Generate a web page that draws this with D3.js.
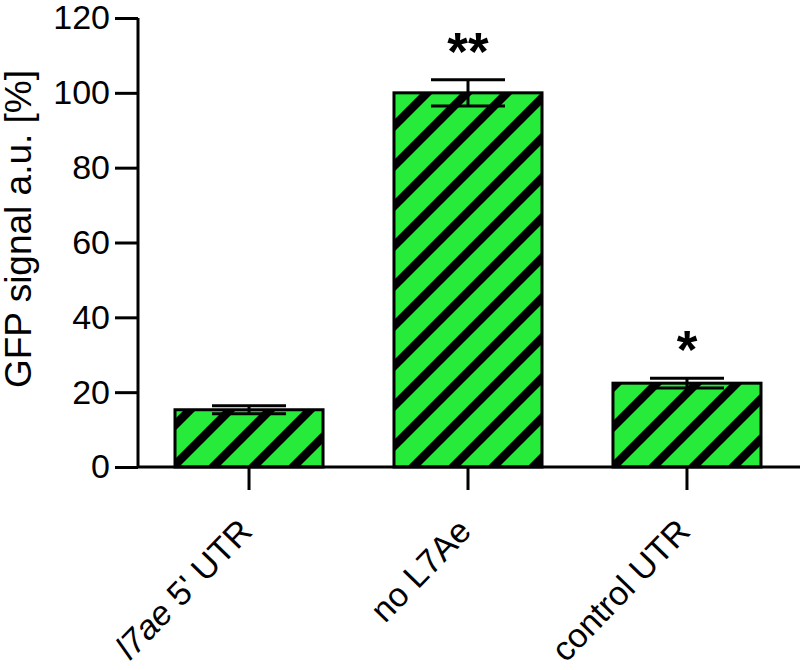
<!DOCTYPE html>
<html>
<head>
<meta charset="utf-8">
<script src="https://cdn.jsdelivr.net/npm/d3@7"></script>
<style>
  body { margin: 0; background: #fff; }
  text { font-family: Arial, "Liberation Sans", sans-serif; }
</style>
</head>
<body>
<div id="chart"></div>
<script>
// dados
const categories = ["l7ae 5' UTR", "no L7Ae", "control UTR"];
const means = [15.3, 100, 22.4];
const errors = [1.1, 3.5, 1.3];
const stars = ["", "**", "*"];
const yTicks = [0, 20, 40, 60, 80, 100, 120];

const width = 800;
const height = 670;

const svg = d3.select("#chart")
    .append("svg")
    .attr("width", width)
    .attr("height", height);

// escalas
const x = d3.scaleBand()
    .domain(categories)
    .range([138, 798])
    .paddingInner(0.324)
    .paddingOuter(0.169);

const y = d3.scaleLinear()
    .domain([0, 120])
    .range([467, 18]);

// padrão listrado (verde com diagonais pretas)
const defs = svg.append("defs");
const pat = defs.append("pattern")
    .attr("id", "stripes")
    .attr("patternUnits", "userSpaceOnUse")
    .attr("width", 40)
    .attr("height", 40);
pat.append("rect")
    .attr("width", 40).attr("height", 40)
    .attr("fill", "#26eb3a");
pat.append("path")
    .attr("d", "M-10,10 L10,-10 M0,40 L40,0 M30,50 L50,30")
    .attr("stroke", "#000")
    .attr("stroke-width", 8.5);

// barras
svg.append("g")
    .selectAll("rect")
    .data(means)
    .enter()
    .append("rect")
    .attr("x", (d, i) => x(categories[i]))
    .attr("y", d => y(d))
    .attr("width", x.bandwidth())
    .attr("height", d => y(0) - y(d))
    .attr("fill", "url(#stripes)")
    .attr("stroke", "#000")
    .attr("stroke-width", 3);

// barras de erro
const eb = svg.append("g")
    .attr("stroke", "#000")
    .attr("stroke-width", 3);
means.forEach((m, i) => {
    const cx = x(categories[i]) + x.bandwidth() / 2;
    const half = x.bandwidth() / 4;
    eb.append("line")
        .attr("x1", cx).attr("x2", cx)
        .attr("y1", y(m + errors[i])).attr("y2", y(m - errors[i]));
    [m + errors[i], m - errors[i]].forEach(v => {
        eb.append("line")
            .attr("x1", cx - half).attr("x2", cx + half)
            .attr("y1", y(v)).attr("y2", y(v));
    });
});

// asteriscos de significância
svg.append("g")
    .selectAll("text")
    .data(stars)
    .enter()
    .append("text")
    .attr("x", (d, i) => x(categories[i]) + x.bandwidth() / 2)
    .attr("y", (d, i) => y(means[i] + errors[i]) - 10)
    .attr("text-anchor", "middle")
    .attr("font-size", 53)
    .attr("font-weight", "bold")
    .text(d => d);

// eixo Y
const yAxis = svg.append("g")
    .attr("transform", "translate(138,0)")
    .call(d3.axisLeft(y).tickValues(yTicks).tickSize(23).tickPadding(5));
yAxis.selectAll("text").attr("font-size", 34).attr("fill", "#000")
    .attr("font-family", "Arial, 'Liberation Sans', sans-serif");
yAxis.selectAll("line").attr("stroke", "#000").attr("stroke-width", 3);
yAxis.select(".domain").attr("stroke", "#000").attr("stroke-width", 3)
    .attr("d", `M0,${y(120)}V${y(0)}`);

// eixo X
const xAxis = svg.append("g")
    .attr("transform", `translate(0,${y(0)})`);
xAxis.append("line")
    .attr("x1", 138).attr("x2", 800)
    .attr("y1", 0).attr("y2", 0)
    .attr("stroke", "#000").attr("stroke-width", 3);
xAxis.selectAll(".tick")
    .data(categories)
    .enter()
    .append("line")
    .attr("x1", d => x(d) + x.bandwidth() / 2)
    .attr("x2", d => x(d) + x.bandwidth() / 2)
    .attr("y1", 0).attr("y2", 23)
    .attr("stroke", "#000").attr("stroke-width", 3);

const labels = xAxis.selectAll(".lbl")
    .data(categories)
    .enter()
    .append("text")
    .attr("class", "lbl")
    .attr("text-anchor", "end")
    .attr("font-size", 34)
    .attr("transform", d => `translate(${x(d) + x.bandwidth() / 2 + 5},${66}) rotate(-46)`);
labels.each(function(d) {
    const t = d3.select(this);
    if (d.startsWith("l7ae")) {
        t.append("tspan").attr("font-style", "italic").text("l7ae");
        t.append("tspan").text(d.slice(4));
    } else {
        t.text(d);
    }
});

// título do eixo Y
svg.append("text")
    .attr("transform", "translate(31,229) rotate(-90)")
    .attr("text-anchor", "middle")
    .attr("font-size", 37)
    .text("GFP signal a.u. [%]");
</script>
</body>
</html>
